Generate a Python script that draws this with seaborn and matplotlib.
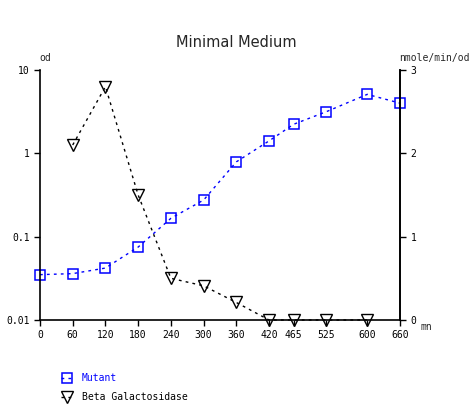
import numpy as np
import pandas as pd
import matplotlib
matplotlib.use("Agg")
import matplotlib.pyplot as plt
import seaborn as sns

# Data
minutes = [0, 60, 120, 180, 240, 300, 360, 420, 465, 525, 600, 660]
mutant_od = [0.035, 0.036, 0.042, 0.075, 0.166, 0.275, 0.79, 1.41, 2.23, 3.16, 5.1, 4.0]

beta_minutes = [60, 120, 180, 240, 300, 360, 420, 465, 525, 600]
beta_gal = [2.10, 2.80, 1.50, 0.50, 0.41, 0.21, 0.0, 0.0, 0.0, 0.0]

x_ticks = [0, 60, 120, 180, 240, 300, 360, 420, 465, 525, 600, 660]

sns.set_style("ticks")
plt.rcParams["font.family"] = ["DejaVu Sans Mono"]

fig = plt.figure(figsize=(4.72, 4.05), dpi=100)
ax = fig.add_axes([0.0847, 0.2099, 0.7627, 0.6173])
ax2 = ax.twinx()

dash = (0, (2, 3))
sns.lineplot(x=minutes, y=mutant_od, ax=ax, color="#0000ff", marker="s",
             markersize=7, markerfacecolor="none", markeredgecolor="#0000ff",
             markeredgewidth=1.1, linewidth=1, linestyle=dash, label="Mutant",
             legend=False, clip_on=False)
sns.lineplot(x=beta_minutes, y=beta_gal, ax=ax2, color="black", marker="v",
             markersize=8, markerfacecolor="none", markeredgecolor="black",
             markeredgewidth=1, linewidth=1, linestyle=dash,
             label="Beta Galactosidase", legend=False, clip_on=False)

ax.set_yscale("log")
ax.set_ylim(0.01, 10)
ax.set_yticks([0.01, 0.1, 1, 10])
ax.set_yticklabels(["0.01", "0.1", "1", "10"])
ax.yaxis.set_minor_locator(matplotlib.ticker.NullLocator())
ax.set_xlim(0, 660)
ax.set_xticks(x_ticks)
ax.set_xticklabels([str(t) for t in x_ticks])
ax2.set_ylim(0, 3)
ax2.set_yticks([0, 1, 2, 3])

for a in (ax, ax2):
    a.tick_params(labelsize=7, length=4, width=1, colors="black")
    a.spines["top"].set_visible(False)
    for s in a.spines.values():
        s.set_linewidth(1.2)
        s.set_color("black")
ax2.spines["left"].set_visible(False)
ax2.spines["bottom"].set_visible(False)

ax.set_xlabel("")
ax.set_ylabel("")
ax2.set_ylabel("")

fig.text(0.5, 0.895, "Minimal Medium", ha="center", va="center",
         fontsize=10.5, family="DejaVu Sans")
fig.text(0.083, 0.857, "od", ha="left", va="center", fontsize=7)
fig.text(0.845, 0.857, "nmole/min/od", ha="left", va="center", fontsize=7)
fig.text(0.89, 0.192, "mn", ha="left", va="center", fontsize=7)

h1, l1 = ax.get_legend_handles_labels()
h2, l2 = ax2.get_legend_handles_labels()
leg = fig.legend(h1 + h2, l1 + l2, loc="upper left", bbox_to_anchor=(0.11, 0.1),
                 frameon=False, fontsize=7, handlelength=1.4,
                 labelspacing=0.9, labelcolor=["#0000ff", "black"])

fig.savefig("out.png", dpi=100)
